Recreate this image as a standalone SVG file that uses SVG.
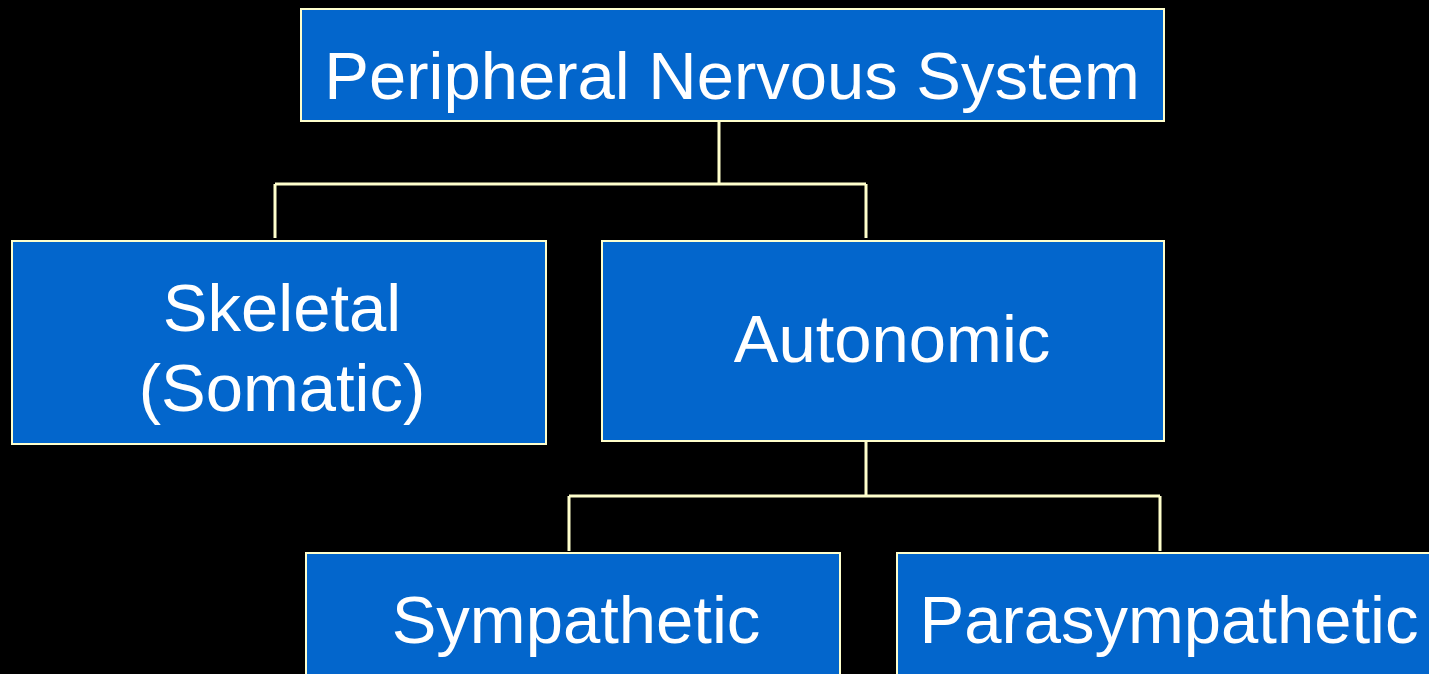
<svg xmlns="http://www.w3.org/2000/svg" width="1429" height="674" viewBox="0 0 1429 674">
<style>
.box{fill:#0366CC;stroke:#FFFFCC;stroke-width:2}
.lbl{font-family:"Liberation Sans",Arial,sans-serif;font-size:67px;fill:#FFFFFF;text-anchor:middle}
.con{fill:none;stroke:#FFFFCC;stroke-width:3}
</style>
<rect x="0" y="0" width="1429" height="674" fill="#000000"/>
<g id="connectors">
<path class="con" d="M719 121 V184 M275 184 H866 M275 184 V238 M866 184 V238"/>
<path class="con" d="M866 441 V496 M569 496 H1160 M569 496 V551 M1160 496 V551"/>
</g>
<g id="pns">
<rect class="box" x="301" y="9" width="863" height="112"/>
<text class="lbl" x="732" y="99">Peripheral Nervous System</text>
</g>
<g id="skeletal">
<rect class="box" x="12" y="241" width="534" height="203"/>
<text class="lbl" x="282" y="331">Skeletal</text>
<text class="lbl" x="282" y="411">(Somatic)</text>
</g>
<g id="autonomic">
<rect class="box" x="602" y="241" width="562" height="200"/>
<text class="lbl" x="892" y="362">Autonomic</text>
</g>
<g id="sympathetic">
<rect class="box" x="306" y="553" width="534" height="130"/>
<text class="lbl" x="576" y="643">Sympathetic</text>
</g>
<g id="parasympathetic">
<rect class="box" x="897" y="553" width="560" height="130"/>
<text class="lbl" x="1169" y="643">Parasympathetic</text>
</g>
</svg>
